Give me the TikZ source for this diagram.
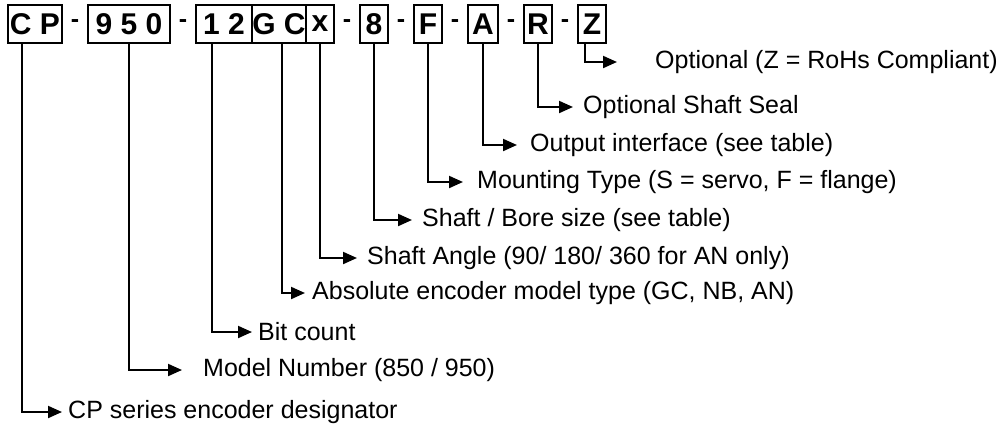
\documentclass[tikz,border=0pt]{standalone}
\usepackage{fontspec}
\setmainfont{Liberation Sans}
\usetikzlibrary{arrows.meta, positioning}

\begin{document}
\begin{tikzpicture}[x=1pt, y=-1pt]
    \tikzset{
        cell/.style = {rectangle, draw=black, line width=2.5pt, minimum height=38pt, inner sep=0pt, outer sep=0pt, font=\fontsize{30}{30}\selectfont\bfseries},
        sep/.style = {minimum width=26pt, inner sep=0pt, outer sep=0pt, font=\fontsize{25}{25}\selectfont\bfseries},
        descr/.style = {anchor=west, inner sep=0pt, font=\fontsize{25}{30}\selectfont},
        lead/.style = {draw=black, line width=2pt, -{Triangle[length=14pt, width=12pt]}}
    }

    \useasboundingbox (0,0) rectangle (1004,424);

    \node[cell, minimum width=54pt, anchor=north west](cp) at (8,5){C P};
    \node[sep](d_1)[right = 0pt of cp]{-};
    \node[cell, minimum width=82pt](mn)[right = 0pt of d_1]{9 5 0};
    \node[sep](d_2)[right = 0pt of mn]{-};
    \node[cell, minimum width=56pt](bc)[right = 0pt of d_2]{1 2};
    \node[cell, minimum width=54pt](gc)[right = 0pt of bc]{G C};
    \node[cell, minimum width=28pt](ax)[right = 0pt of gc]{x};
    \node[sep](d_3)[right = 0pt of ax]{-};
    \node[cell, minimum width=28pt](sz)[right = 0pt of d_3]{8};
    \node[sep](d_4)[right = 0pt of sz]{-};
    \node[cell, minimum width=28pt](mt)[right = 0pt of d_4]{F};
    \node[sep](d_5)[right = 0pt of mt]{-};
    \node[cell, minimum width=30pt](oi)[right = 0pt of d_5]{A};
    \node[sep](d_6)[right = 0pt of oi]{-};
    \node[cell, minimum width=28pt](ss)[right = 0pt of d_6]{R};
    \node[sep](d_7)[right = 0pt of ss]{-};
    \node[cell, minimum width=28pt](rh)[right = 0pt of d_7]{Z};

    \node[descr](t_rh) at (655,62){Optional (Z = RoHs Compliant)};
    \node[descr](t_ss) at (583,107){Optional Shaft Seal};
    \node[descr](t_oi) at (530,145){Output interface (see table)};
    \node[descr](t_mt) at (477,182){Mounting Type (S = servo, F = flange)};
    \node[descr](t_sz) at (422,220){Shaft / Bore size (see table)};
    \node[descr](t_ax) at (367,258){Shaft Angle (90/ 180/ 360 for AN only)};
    \node[descr](t_gc) at (312,293){Absolute encoder model type (GC, NB, AN)};
    \node[descr](t_bc) at (258,332){Bit count};
    \node[descr](t_mn) at (203,370){Model Number (850 / 950)};
    \node[descr](t_cp) at (68,412){CP series encoder designator};

    \path [lead, shorten >=38pt] ([xshift=7pt]rh.south west) |- (t_rh);
    \path [lead, shorten >=10pt] (ss.south) |- (t_ss);
    \path [lead, shorten >=13pt] (oi.south) |- (t_oi);
    \path [lead, shorten >=14pt] (mt.south) |- (t_mt);
    \path [lead, shorten >=10pt] (sz.south) |- (t_sz);
    \path [lead, shorten >=10pt] (ax.south) |- (t_ax);
    \path [lead, shorten >=7pt] ([xshift=3pt]gc.south) |- (t_gc);
    \path [lead, shorten >=6pt] ([xshift=16pt]bc.south west) |- (t_bc);
    \path [lead, shorten >=21pt] (mn.south) |- (t_mn);
    \path [lead, shorten >=6pt] ([xshift=14pt]cp.south west) |- (t_cp);

\end{tikzpicture}
\end{document}
